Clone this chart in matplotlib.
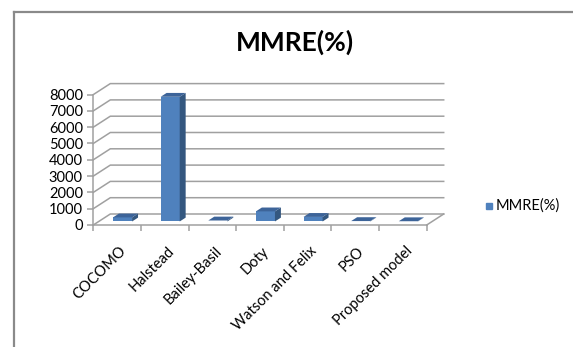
import numpy as np
import matplotlib
matplotlib.use("Agg")
import matplotlib.pyplot as plt
from matplotlib.patches import Polygon
from matplotlib.lines import Line2D

plt.rcParams['font.family'] = ['Lato', 'DejaVu Sans']

# data
categories = ['COCOMO', 'Halstead', 'Bailey-Basil', 'Doty',
              'Watson and Felix', 'PSO', 'Proposed model']
mmre = [250, 7650, 60, 620, 280, 25, 15]
yticks = [0, 1000, 2000, 3000, 4000, 5000, 6000, 7000, 8000]

W, H = 573, 347
fig = plt.figure(figsize=(W / 100, H / 100), dpi=100)

# axes = front plane of the 3D box (pixel geometry from the reference)
x0, x1 = 93.3, 426.7
y0, y8 = 225.0, 94.6
ax = fig.add_axes([x0 / W, (H - y0) / H, (x1 - x0) / W, (y0 - y8) / H])
ax.set_xlim(0, 7)
ax.set_ylim(0, 8000)

px_x = (x1 - x0) / 7          # pixels per category
px_y = (y0 - y8) / 8000       # pixels per value unit
DX = 17 / px_x                # depth offset in data units
DY = 11 / px_y

grid = '#a0a0a0'
n = len(categories)

# side wall + back wall gridlines
for v in yticks:
    ax.plot([0, DX, n + DX], [v, v + DY, v + DY], color=grid, lw=1.1,
            clip_on=False, zorder=1)
# right diagonal of the floor
ax.plot([n, n + DX], [0, DY], color=grid, lw=1.1, clip_on=False, zorder=1)

# bars
f = 0.32          # front face depth fraction
d = 0.35          # bar depth fraction
bw = 0.4
front = '#4f81bd'
side = '#34577f'
top = '#3d6499'
xs = np.arange(n) + 0.5 - bw / 2 + f * DX
base = f * DY
ax.bar(xs, mmre, width=bw, bottom=base, align='edge', color=front,
       edgecolor='none', clip_on=False, zorder=3)
for x, v in zip(xs, mmre):
    bx, by = d * DX, d * DY
    ax.add_patch(Polygon([(x + bw, base), (x + bw + bx, base + by),
                          (x + bw + bx, base + v + by), (x + bw, base + v)],
                         closed=True, facecolor=side, edgecolor='none',
                         clip_on=False, zorder=3))
    ax.add_patch(Polygon([(x, base + v), (x + bw, base + v),
                          (x + bw + bx, base + v + by), (x + bx, base + v + by)],
                         closed=True, facecolor=top, edgecolor='none',
                         clip_on=False, zorder=3))

# axes styling
for s in ['top', 'right']:
    ax.spines[s].set_visible(False)
for s in ['left', 'bottom']:
    ax.spines[s].set_color(grid)
    ax.spines[s].set_linewidth(1.1)
ax.set_yticks(yticks)
ax.set_yticklabels([str(v) for v in yticks], fontsize=10.5)
ax.set_xticks(np.arange(n + 1))
ax.set_xticklabels([])
ax.tick_params(axis='both', colors=grid, length=4.5, width=1.1, direction='out',
               labelcolor='black')
ax.tick_params(axis='y', pad=3)
ax.patch.set_visible(False)

for i, c in enumerate(categories):
    ax.annotate(c, xy=(i + 0.5, 0), xycoords='data',
                xytext=(2, -19), textcoords='offset pixels',
                rotation=45, ha='right', va='top', rotation_mode='anchor',
                fontsize=10.5, color='black')

# title
fig.text(294.5 / W, 1 - 42 / H, 'MMRE(%)', ha='center', va='center',
         fontsize=19, fontweight='bold', color='black')

# legend
fig.patches.append(plt.Rectangle((486 / W, 1 - 208.5 / H), 5.7 / W, 5.7 / H,
                                 transform=fig.transFigure, color=front))
fig.text(496 / W, 1 - 205.5 / H, 'MMRE(%)', ha='left', va='center',
         fontsize=10.5, color='black')

# outer chart border (only top and left visible in the crop)
bc = '#8a8a8a'
fig.add_artist(Line2D([14 / W, 14 / W], [0, 1 - 12 / H], color=bc, lw=1.6,
                      transform=fig.transFigure))
fig.add_artist(Line2D([14 / W, 1], [1 - 12 / H, 1 - 12 / H], color=bc, lw=1.6,
                      transform=fig.transFigure))

fig.savefig('out.png', dpi=100)
